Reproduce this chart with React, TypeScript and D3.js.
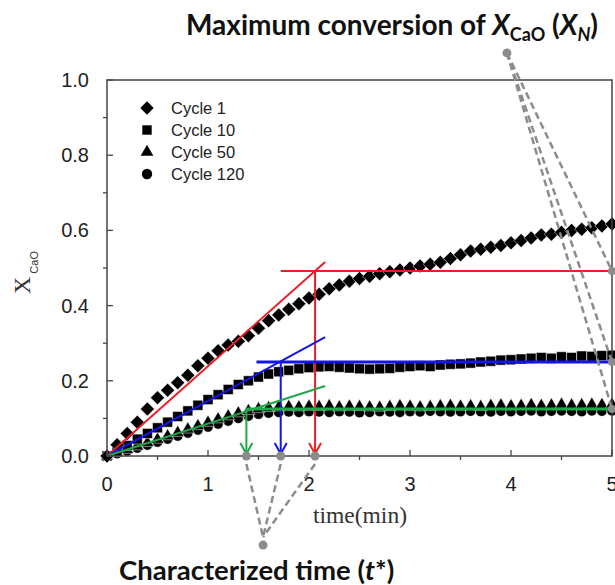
import React from "react";
import * as d3 from "d3";

// ---------- data ----------
const time = [0.0,0.1,0.2,0.3,0.4,0.5,0.6,0.7,0.8,0.9,1.0,1.1,1.2,1.3,1.4,1.5,1.6,1.7,1.8,1.9,2.0,2.1,2.2,2.3,2.4,2.5,2.6,2.7,2.8,2.9,3.0,3.1,3.2,3.3,3.4,3.5,3.6,3.7,3.8,3.9,4.0,4.1,4.2,4.3,4.4,4.5,4.6,4.7,4.8,4.9,5.0];
const cycle1 = [0.000,0.030,0.060,0.090,0.125,0.155,0.175,0.195,0.215,0.240,0.260,0.280,0.295,0.305,0.320,0.340,0.360,0.375,0.390,0.405,0.420,0.430,0.445,0.455,0.465,0.472,0.478,0.485,0.490,0.495,0.500,0.505,0.510,0.515,0.525,0.535,0.545,0.550,0.555,0.560,0.567,0.573,0.580,0.588,0.590,0.595,0.600,0.603,0.607,0.612,0.617];
const cycle10 = [0.000,0.012,0.028,0.045,0.060,0.075,0.090,0.105,0.120,0.135,0.150,0.163,0.177,0.190,0.200,0.210,0.218,0.224,0.228,0.232,0.235,0.237,0.238,0.236,0.234,0.232,0.231,0.232,0.233,0.236,0.238,0.240,0.238,0.242,0.244,0.245,0.247,0.250,0.252,0.255,0.256,0.258,0.260,0.262,0.260,0.264,0.262,0.266,0.265,0.267,0.268];
const cycle50 = [0.000,0.008,0.017,0.026,0.035,0.044,0.053,0.062,0.071,0.080,0.089,0.098,0.106,0.114,0.120,0.125,0.128,0.130,0.131,0.130,0.132,0.131,0.133,0.130,0.132,0.131,0.130,0.129,0.131,0.133,0.132,0.130,0.131,0.133,0.134,0.132,0.133,0.131,0.134,0.135,0.133,0.134,0.136,0.134,0.135,0.137,0.135,0.136,0.137,0.136,0.137];
const cycle120 = [0.000,0.006,0.013,0.021,0.029,0.037,0.045,0.053,0.061,0.069,0.077,0.085,0.093,0.100,0.106,0.111,0.114,0.116,0.117,0.116,0.118,0.117,0.116,0.118,0.117,0.115,0.116,0.118,0.117,0.116,0.118,0.117,0.119,0.118,0.117,0.118,0.119,0.118,0.117,0.119,0.118,0.119,0.120,0.118,0.119,0.120,0.119,0.118,0.120,0.119,0.120];

const seriesNames = ["Cycle 1", "Cycle 10", "Cycle 50", "Cycle 120"];

// annotation constructs (red = cycle 1, blue = cycle 10, green = cycle 50/120)
const tangentEndT = [2.16, 2.16, 2.16];
const tangentEndX = [0.516, 0.316, 0.186];
const plateauX = [0.492, 0.25, 0.125];
const plateauStartT = [1.72, 1.48, 1.38];
const tStar = [2.06, 1.72, 1.38];
const topAnchor = [3.96, 1.072];
const bottomAnchor = [1.545, -0.237];

const xTicksMajor = [0, 1, 2, 3, 4, 5];
const xTicksMinor = [0.5, 1.5, 2.5, 3.5, 4.5];
const yTicksMajor = [0, 0.2, 0.4, 0.6, 0.8, 1.0];
const yTicksMinor = [0.1, 0.3, 0.5, 0.7, 0.9];

// ---------- layout ----------
const W = 615, H = 585;
const L = 107, R = 612, T = 80, B = 456;
const x = d3.scaleLinear().domain([0, 5]).range([L, R]);
const y = d3.scaleLinear().domain([0, 1]).range([B, T]);

const lineColors = ["#ee1c24", "#1515e6", "#1ea84a"];
const lineWidths = [2, 3, 3];
const gray = "#8c8c8c";

const symDiamond = d3.symbol().type(d3.symbolSquare).size(98)();
const symSquare = d3.symbol().type(d3.symbolSquare).size(100)();
const symTriangle = d3.symbol().type(d3.symbolTriangle).size(72)();
const symCircle = d3.symbol().type(d3.symbolCircle).size(82)();

const legDiamond = d3.symbol().type(d3.symbolSquare).size(90)();
const legSquare = d3.symbol().type(d3.symbolSquare).size(88)();
const legTriangle = d3.symbol().type(d3.symbolTriangle).size(70)();
const legCircle = d3.symbol().type(d3.symbolCircle).size(85)();

const seriesDefs = [
  { vals: cycle1, path: symDiamond, leg: legDiamond, rot: 45 },
  { vals: cycle10, path: symSquare, leg: legSquare, rot: 0 },
  { vals: cycle50, path: symTriangle, leg: legTriangle, rot: 0 },
  { vals: cycle120, path: symCircle, leg: legCircle, rot: 0 },
];

const sans = "'Liberation Sans', Arial, sans-serif";
const serif = "'Liberation Serif', 'Times New Roman', serif";
const bold = "Lato, 'Open Sans', sans-serif";

export default function App() {
  const drawOrder = [3, 2, 1, 0];
  return (
    <svg width={W} height={H} style={{ position: "absolute", left: 0, top: 0, background: "#fff" }}>
      {/* markers */}
      {drawOrder.map((si) => {
        const s = seriesDefs[si];
        return (
          <g key={si}>
            {s.vals.map((v, i) => (
              <path
                key={i}
                d={s.path as string}
                transform={`translate(${x(time[i])},${y(v)}) rotate(${s.rot})`}
                fill="#000"
                stroke="#fff"
                strokeWidth={0.5}
              />
            ))}
          </g>
        );
      })}

      {/* tangent, plateau and arrow lines */}
      {lineColors.map((c, k) => (
        <g key={k} stroke={c} fill="none">
          <line x1={x(0)} y1={y(0)} x2={x(tangentEndT[k])} y2={y(tangentEndX[k])} strokeWidth={2} />
          <line x1={x(plateauStartT[k])} y1={y(plateauX[k])} x2={x(5)} y2={y(plateauX[k])} strokeWidth={lineWidths[k]} />
          <line x1={x(tStar[k])} y1={y(plateauX[k])} x2={x(tStar[k])} y2={y(0) - 2} strokeWidth={2} />
          <polyline
            points={`${x(tStar[k]) - 6},${y(0) - 13} ${x(tStar[k])},${y(0) - 2} ${x(tStar[k]) + 6},${y(0) - 13}`}
            strokeWidth={2}
          />
        </g>
      ))}

      {/* axes frame */}
      <rect x={L} y={T} width={R - L} height={B - T} fill="none" stroke="#444" strokeWidth={1.5} />
      {xTicksMajor.map((t) => (
        <line key={"xm" + t} x1={x(t)} x2={x(t)} y1={B} y2={B - 6} stroke="#444" strokeWidth={1.3} />
      ))}
      {xTicksMinor.map((t) => (
        <line key={"xn" + t} x1={x(t)} x2={x(t)} y1={B} y2={B + 4} stroke="#444" strokeWidth={1.3} />
      ))}
      {yTicksMajor.map((t) => (
        <line key={"ym" + t} x1={L} x2={L + 6} y1={y(t)} y2={y(t)} stroke="#444" strokeWidth={1.3} />
      ))}
      {yTicksMinor.map((t) => (
        <line key={"yn" + t} x1={L} x2={L - 4} y1={y(t)} y2={y(t)} stroke="#444" strokeWidth={1.3} />
      ))}
      {xTicksMajor.map((t) => (
        <text key={"xl" + t} x={x(t)} y={491} textAnchor="middle" fontFamily={sans} fontSize={20} fill="#222">
          {String(t)}
        </text>
      ))}
      {yTicksMajor.map((t) => (
        <text key={"yl" + t} x={89} y={y(t) + 7} textAnchor="end" fontFamily={sans} fontSize={20} fill="#222">
          {t.toFixed(1)}
        </text>
      ))}

      {/* axis titles */}
      <text x={313} y={523} fontFamily={serif} fontSize={23.5} fill="#333">time(min)</text>
      <text transform="translate(30,294) rotate(-90)" fontFamily={serif} fontSize={24} fill="#333">
        X<tspan fontFamily={sans} fontSize={11} dy={8} dx={3}>CaO</tspan>
      </text>

      {/* legend */}
      {seriesNames.map((n, i) => (
        <g key={n} transform={`translate(147,${108 + i * 22})`}>
          <path d={seriesDefs[i].leg as string} transform={`rotate(${seriesDefs[i].rot})`} fill="#000" />
          <text x={24} y={6} fontFamily={sans} fontSize={16.5} fill="#222">{n}</text>
        </g>
      ))}

      {/* gray dashed annotation connectors */}
      {plateauX.map((v, k) => (
        <line key={"td" + k} x1={x(topAnchor[0])} y1={y(topAnchor[1])} x2={x(5)} y2={y(v)}
          stroke={gray} strokeWidth={2.5} strokeDasharray="7 4" />
      ))}
      {plateauX.map((v, k) => (
        <circle key={"tc" + k} cx={x(5)} cy={y(v)} r={4} fill={gray} />
      ))}
      <circle cx={x(topAnchor[0])} cy={y(topAnchor[1])} r={4.5} fill={gray} />
      {tStar.map((t, k) => (
        <line key={"bd" + k} x1={x(t)} y1={y(0) + 8} x2={x(bottomAnchor[0])} y2={y(bottomAnchor[1]) - 8}
          stroke={gray} strokeWidth={2.5} strokeDasharray="7 4" />
      ))}
      {tStar.map((t, k) => (
        <circle key={"bc" + k} cx={x(t)} cy={y(0)} r={4.5} fill={gray} />
      ))}
      <circle cx={x(bottomAnchor[0])} cy={y(bottomAnchor[1])} r={4.5} fill={gray} />

      {/* annotation titles */}
      <text x={186} y={35} fontFamily={bold} fontWeight="bold" fontSize={28} fill="#111">
        Maximum conversion of <tspan fontStyle="italic">X</tspan>
        <tspan fontSize={18} dy={6}>CaO</tspan>
        <tspan dy={-6}> (</tspan>
        <tspan fontStyle="italic">X</tspan>
        <tspan fontStyle="italic" fontSize={18} dy={6}>N</tspan>
        <tspan dy={-6}>)</tspan>
      </text>
      <text x={119} y={580} fontFamily={bold} fontWeight="bold" fontSize={27.5} fill="#111">
        Characterized time (<tspan fontStyle="italic">t</tspan>*)
      </text>
    </svg>
  );
}
